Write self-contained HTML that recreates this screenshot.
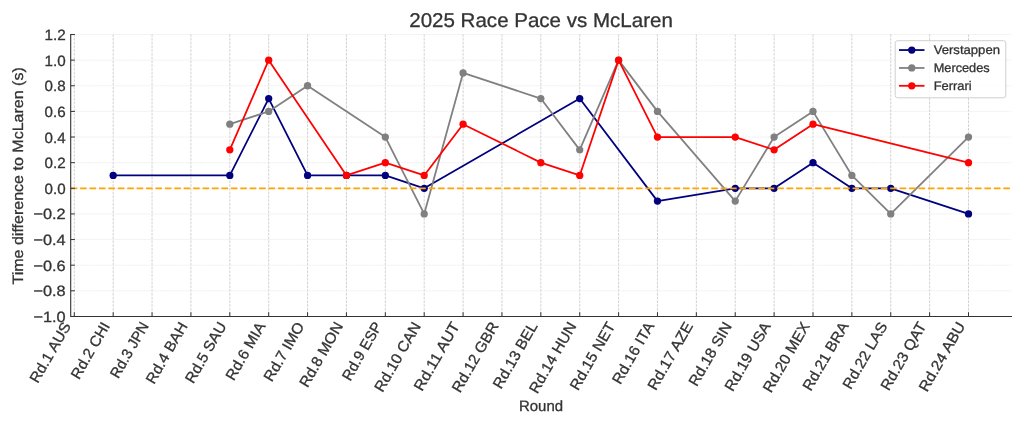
<!DOCTYPE html>
<html><head><meta charset="utf-8"><title>2025 Race Pace vs McLaren</title>
<style>
html,body{margin:0;padding:0;background:#fff;}
body{width:1024px;height:427px;overflow:hidden;}
svg{display:block;}
svg text{font-family:"Liberation Sans",sans-serif;fill:#333333;text-rendering:geometricPrecision;stroke:#333333;stroke-width:0.3px;}
.tk{font-size:14.95px;}
.ttl{font-size:19.9px;}
.lg{font-size:12.45px;}
.grid line{stroke:#c6c6c6;stroke-width:0.8;stroke-dasharray:2.63 1.12;}
.hgrid line{stroke:#eaeaea;stroke-width:0.75;stroke-dasharray:2.0 0.8;}
.ax line,.ax path{stroke:#333;fill:none;}
.s{fill:none;stroke-width:1.78;stroke-linejoin:round;stroke-linecap:square;}
</style></head>
<body>
<svg width="1024" height="427" viewBox="0 0 1024 427">
<rect width="1024" height="427" fill="#fff"/>
<g opacity="0.999">
<g class="grid">
<line x1="74.30" y1="34.20" x2="74.30" y2="316.45"/>
<line x1="113.18" y1="34.20" x2="113.18" y2="316.45"/>
<line x1="152.06" y1="34.20" x2="152.06" y2="316.45"/>
<line x1="190.93" y1="34.20" x2="190.93" y2="316.45"/>
<line x1="229.81" y1="34.20" x2="229.81" y2="316.45"/>
<line x1="268.69" y1="34.20" x2="268.69" y2="316.45"/>
<line x1="307.57" y1="34.20" x2="307.57" y2="316.45"/>
<line x1="346.45" y1="34.20" x2="346.45" y2="316.45"/>
<line x1="385.33" y1="34.20" x2="385.33" y2="316.45"/>
<line x1="424.20" y1="34.20" x2="424.20" y2="316.45"/>
<line x1="463.08" y1="34.20" x2="463.08" y2="316.45"/>
<line x1="501.96" y1="34.20" x2="501.96" y2="316.45"/>
<line x1="540.84" y1="34.20" x2="540.84" y2="316.45"/>
<line x1="579.72" y1="34.20" x2="579.72" y2="316.45"/>
<line x1="618.60" y1="34.20" x2="618.60" y2="316.45"/>
<line x1="657.47" y1="34.20" x2="657.47" y2="316.45"/>
<line x1="696.35" y1="34.20" x2="696.35" y2="316.45"/>
<line x1="735.23" y1="34.20" x2="735.23" y2="316.45"/>
<line x1="774.11" y1="34.20" x2="774.11" y2="316.45"/>
<line x1="812.99" y1="34.20" x2="812.99" y2="316.45"/>
<line x1="851.87" y1="34.20" x2="851.87" y2="316.45"/>
<line x1="890.74" y1="34.20" x2="890.74" y2="316.45"/>
<line x1="929.62" y1="34.20" x2="929.62" y2="316.45"/>
<line x1="968.50" y1="34.20" x2="968.50" y2="316.45"/>
</g><g class="hgrid">
<line x1="70.70" y1="316.45" x2="1011.40" y2="316.45"/>
<line x1="70.70" y1="290.82" x2="1011.40" y2="290.82"/>
<line x1="70.70" y1="265.19" x2="1011.40" y2="265.19"/>
<line x1="70.70" y1="239.55" x2="1011.40" y2="239.55"/>
<line x1="70.70" y1="213.92" x2="1011.40" y2="213.92"/>
<line x1="70.70" y1="188.29" x2="1011.40" y2="188.29"/>
<line x1="70.70" y1="162.66" x2="1011.40" y2="162.66"/>
<line x1="70.70" y1="137.03" x2="1011.40" y2="137.03"/>
<line x1="70.70" y1="111.40" x2="1011.40" y2="111.40"/>
<line x1="70.70" y1="85.76" x2="1011.40" y2="85.76"/>
<line x1="70.70" y1="60.13" x2="1011.40" y2="60.13"/>
<line x1="70.70" y1="34.50" x2="1011.40" y2="34.50"/>
</g>
<polyline class="s" stroke="#000080" points="113.18,175.47 229.81,175.47 268.69,98.58 307.57,175.47 346.45,175.47 385.33,175.47 424.20,188.29 579.72,98.58 657.47,201.11 735.23,188.29 774.11,188.29 812.99,162.66 851.87,188.29 890.74,188.29 968.50,213.92"/>
<g fill="#000080"><circle cx="113.18" cy="175.47" r="3.65"/><circle cx="229.81" cy="175.47" r="3.65"/><circle cx="268.69" cy="98.58" r="3.65"/><circle cx="307.57" cy="175.47" r="3.65"/><circle cx="346.45" cy="175.47" r="3.65"/><circle cx="385.33" cy="175.47" r="3.65"/><circle cx="424.20" cy="188.29" r="3.65"/><circle cx="579.72" cy="98.58" r="3.65"/><circle cx="657.47" cy="201.11" r="3.65"/><circle cx="735.23" cy="188.29" r="3.65"/><circle cx="774.11" cy="188.29" r="3.65"/><circle cx="812.99" cy="162.66" r="3.65"/><circle cx="851.87" cy="188.29" r="3.65"/><circle cx="890.74" cy="188.29" r="3.65"/><circle cx="968.50" cy="213.92" r="3.65"/></g>
<polyline class="s" stroke="#808080" points="229.81,124.21 268.69,111.40 307.57,85.76 385.33,137.03 424.20,213.92 463.08,72.95 540.84,98.58 579.72,149.84 618.60,60.13 657.47,111.40 735.23,201.11 774.11,137.03 812.99,111.40 851.87,175.47 890.74,213.92 968.50,137.03"/>
<g fill="#808080"><circle cx="229.81" cy="124.21" r="3.65"/><circle cx="268.69" cy="111.40" r="3.65"/><circle cx="307.57" cy="85.76" r="3.65"/><circle cx="385.33" cy="137.03" r="3.65"/><circle cx="424.20" cy="213.92" r="3.65"/><circle cx="463.08" cy="72.95" r="3.65"/><circle cx="540.84" cy="98.58" r="3.65"/><circle cx="579.72" cy="149.84" r="3.65"/><circle cx="618.60" cy="60.13" r="3.65"/><circle cx="657.47" cy="111.40" r="3.65"/><circle cx="735.23" cy="201.11" r="3.65"/><circle cx="774.11" cy="137.03" r="3.65"/><circle cx="812.99" cy="111.40" r="3.65"/><circle cx="851.87" cy="175.47" r="3.65"/><circle cx="890.74" cy="213.92" r="3.65"/><circle cx="968.50" cy="137.03" r="3.65"/></g>
<polyline class="s" stroke="#ff0000" points="229.81,149.84 268.69,60.13 346.45,175.47 385.33,162.66 424.20,175.47 463.08,124.21 540.84,162.66 579.72,175.47 618.60,60.13 657.47,137.03 735.23,137.03 774.11,149.84 812.99,124.21 968.50,162.66"/>
<g fill="#ff0000"><circle cx="229.81" cy="149.84" r="3.65"/><circle cx="268.69" cy="60.13" r="3.65"/><circle cx="346.45" cy="175.47" r="3.65"/><circle cx="385.33" cy="162.66" r="3.65"/><circle cx="424.20" cy="175.47" r="3.65"/><circle cx="463.08" cy="124.21" r="3.65"/><circle cx="540.84" cy="162.66" r="3.65"/><circle cx="579.72" cy="175.47" r="3.65"/><circle cx="618.60" cy="60.13" r="3.65"/><circle cx="657.47" cy="137.03" r="3.65"/><circle cx="735.23" cy="137.03" r="3.65"/><circle cx="774.11" cy="149.84" r="3.65"/><circle cx="812.99" cy="124.21" r="3.65"/><circle cx="968.50" cy="162.66" r="3.65"/></g>
<line x1="70.70" y1="188.29" x2="1011.40" y2="188.29" stroke="#ffa500" stroke-width="1.78" stroke-dasharray="6.58 2.84"/>
<g class="ax">
<path d="M70.70 34.50 V316.45 H1011.40" stroke-width="1.1" stroke-linecap="square"/>
<line x1="74.30" y1="316.45" x2="74.30" y2="312.25" stroke-width="1.0"/>
<line x1="113.18" y1="316.45" x2="113.18" y2="312.25" stroke-width="1.0"/>
<line x1="152.06" y1="316.45" x2="152.06" y2="312.25" stroke-width="1.0"/>
<line x1="190.93" y1="316.45" x2="190.93" y2="312.25" stroke-width="1.0"/>
<line x1="229.81" y1="316.45" x2="229.81" y2="312.25" stroke-width="1.0"/>
<line x1="268.69" y1="316.45" x2="268.69" y2="312.25" stroke-width="1.0"/>
<line x1="307.57" y1="316.45" x2="307.57" y2="312.25" stroke-width="1.0"/>
<line x1="346.45" y1="316.45" x2="346.45" y2="312.25" stroke-width="1.0"/>
<line x1="385.33" y1="316.45" x2="385.33" y2="312.25" stroke-width="1.0"/>
<line x1="424.20" y1="316.45" x2="424.20" y2="312.25" stroke-width="1.0"/>
<line x1="463.08" y1="316.45" x2="463.08" y2="312.25" stroke-width="1.0"/>
<line x1="501.96" y1="316.45" x2="501.96" y2="312.25" stroke-width="1.0"/>
<line x1="540.84" y1="316.45" x2="540.84" y2="312.25" stroke-width="1.0"/>
<line x1="579.72" y1="316.45" x2="579.72" y2="312.25" stroke-width="1.0"/>
<line x1="618.60" y1="316.45" x2="618.60" y2="312.25" stroke-width="1.0"/>
<line x1="657.47" y1="316.45" x2="657.47" y2="312.25" stroke-width="1.0"/>
<line x1="696.35" y1="316.45" x2="696.35" y2="312.25" stroke-width="1.0"/>
<line x1="735.23" y1="316.45" x2="735.23" y2="312.25" stroke-width="1.0"/>
<line x1="774.11" y1="316.45" x2="774.11" y2="312.25" stroke-width="1.0"/>
<line x1="812.99" y1="316.45" x2="812.99" y2="312.25" stroke-width="1.0"/>
<line x1="851.87" y1="316.45" x2="851.87" y2="312.25" stroke-width="1.0"/>
<line x1="890.74" y1="316.45" x2="890.74" y2="312.25" stroke-width="1.0"/>
<line x1="929.62" y1="316.45" x2="929.62" y2="312.25" stroke-width="1.0"/>
<line x1="968.50" y1="316.45" x2="968.50" y2="312.25" stroke-width="1.0"/>
<line x1="70.70" y1="316.45" x2="74.90" y2="316.45" stroke-width="1.0"/>
<line x1="70.70" y1="290.82" x2="74.90" y2="290.82" stroke-width="1.0"/>
<line x1="70.70" y1="265.19" x2="74.90" y2="265.19" stroke-width="1.0"/>
<line x1="70.70" y1="239.55" x2="74.90" y2="239.55" stroke-width="1.0"/>
<line x1="70.70" y1="213.92" x2="74.90" y2="213.92" stroke-width="1.0"/>
<line x1="70.70" y1="188.29" x2="74.90" y2="188.29" stroke-width="1.0"/>
<line x1="70.70" y1="162.66" x2="74.90" y2="162.66" stroke-width="1.0"/>
<line x1="70.70" y1="137.03" x2="74.90" y2="137.03" stroke-width="1.0"/>
<line x1="70.70" y1="111.40" x2="74.90" y2="111.40" stroke-width="1.0"/>
<line x1="70.70" y1="85.76" x2="74.90" y2="85.76" stroke-width="1.0"/>
<line x1="70.70" y1="60.13" x2="74.90" y2="60.13" stroke-width="1.0"/>
<line x1="70.70" y1="34.50" x2="74.90" y2="34.50" stroke-width="1.0"/>
</g>
<g class="tk" text-anchor="end">
<text x="65.70" y="322.00" textLength="32.29" lengthAdjust="spacingAndGlyphs">−1.0</text>
<text x="65.70" y="296.37" textLength="32.19" lengthAdjust="spacingAndGlyphs">−0.8</text>
<text x="65.70" y="270.74" textLength="32.19" lengthAdjust="spacingAndGlyphs">−0.6</text>
<text x="65.70" y="245.10" textLength="32.19" lengthAdjust="spacingAndGlyphs">−0.4</text>
<text x="65.70" y="219.47" textLength="32.29" lengthAdjust="spacingAndGlyphs">−0.2</text>
<text x="65.70" y="193.84" textLength="21.06" lengthAdjust="spacingAndGlyphs">0.0</text>
<text x="65.70" y="168.21" textLength="21.16" lengthAdjust="spacingAndGlyphs">0.2</text>
<text x="65.70" y="142.58" textLength="21.06" lengthAdjust="spacingAndGlyphs">0.4</text>
<text x="65.70" y="116.95" textLength="21.06" lengthAdjust="spacingAndGlyphs">0.6</text>
<text x="65.70" y="91.31" textLength="21.06" lengthAdjust="spacingAndGlyphs">0.8</text>
<text x="65.70" y="65.68" textLength="21.16" lengthAdjust="spacingAndGlyphs">1.0</text>
<text x="65.70" y="40.05" textLength="21.26" lengthAdjust="spacingAndGlyphs">1.2</text>
</g>
<g class="tk" text-anchor="end">
<text transform="translate(71.40 325.80) rotate(-60)" textLength="67.35" lengthAdjust="spacingAndGlyphs">Rd.1 AUS</text>
<text transform="translate(110.28 325.80) rotate(-60)" textLength="62.78" lengthAdjust="spacingAndGlyphs">Rd.2 CHI</text>
<text transform="translate(149.16 325.80) rotate(-60)" textLength="61.58" lengthAdjust="spacingAndGlyphs">Rd.3 JPN</text>
<text transform="translate(188.03 325.80) rotate(-60)" textLength="68.22" lengthAdjust="spacingAndGlyphs">Rd.4 BAH</text>
<text transform="translate(226.91 325.80) rotate(-60)" textLength="67.46" lengthAdjust="spacingAndGlyphs">Rd.5 SAU</text>
<text transform="translate(265.79 325.80) rotate(-60)" textLength="64.19" lengthAdjust="spacingAndGlyphs">Rd.6 MIA</text>
<text transform="translate(304.67 325.80) rotate(-60)" textLength="65.61" lengthAdjust="spacingAndGlyphs">Rd.7 IMO</text>
<text transform="translate(343.55 325.80) rotate(-60)" textLength="72.24" lengthAdjust="spacingAndGlyphs">Rd.8 MON</text>
<text transform="translate(382.43 325.80) rotate(-60)" textLength="64.52" lengthAdjust="spacingAndGlyphs">Rd.9 ESP</text>
<text transform="translate(421.30 325.80) rotate(-60)" textLength="77.57" lengthAdjust="spacingAndGlyphs">Rd.10 CAN</text>
<text transform="translate(460.18 325.80) rotate(-60)" textLength="76.38" lengthAdjust="spacingAndGlyphs">Rd.11 AUT</text>
<text transform="translate(499.06 325.80) rotate(-60)" textLength="78.12" lengthAdjust="spacingAndGlyphs">Rd.12 GBR</text>
<text transform="translate(537.94 325.80) rotate(-60)" textLength="73.88" lengthAdjust="spacingAndGlyphs">Rd.13 BEL</text>
<text transform="translate(576.82 325.80) rotate(-60)" textLength="79.21" lengthAdjust="spacingAndGlyphs">Rd.14 HUN</text>
<text transform="translate(615.70 325.80) rotate(-60)" textLength="75.62" lengthAdjust="spacingAndGlyphs">Rd.15 NET</text>
<text transform="translate(654.57 325.80) rotate(-60)" textLength="68.76" lengthAdjust="spacingAndGlyphs">Rd.16 ITA</text>
<text transform="translate(693.45 325.80) rotate(-60)" textLength="75.62" lengthAdjust="spacingAndGlyphs">Rd.17 AZE</text>
<text transform="translate(732.33 325.80) rotate(-60)" textLength="71.05" lengthAdjust="spacingAndGlyphs">Rd.18 SIN</text>
<text transform="translate(771.21 325.80) rotate(-60)" textLength="76.70" lengthAdjust="spacingAndGlyphs">Rd.19 USA</text>
<text transform="translate(810.09 325.80) rotate(-60)" textLength="78.23" lengthAdjust="spacingAndGlyphs">Rd.20 MEX</text>
<text transform="translate(848.97 325.80) rotate(-60)" textLength="76.27" lengthAdjust="spacingAndGlyphs">Rd.21 BRA</text>
<text transform="translate(887.84 325.80) rotate(-60)" textLength="74.31" lengthAdjust="spacingAndGlyphs">Rd.22 LAS</text>
<text transform="translate(926.72 325.80) rotate(-60)" textLength="75.94" lengthAdjust="spacingAndGlyphs">Rd.23 QAT</text>
<text transform="translate(965.60 325.80) rotate(-60)" textLength="77.25" lengthAdjust="spacingAndGlyphs">Rd.24 ABU</text>
</g>
<text class="tk" text-anchor="middle" x="541.05" y="410.50" textLength="44.13" lengthAdjust="spacingAndGlyphs">Round</text>
<text class="tk" text-anchor="middle" transform="translate(22.80 175.88) rotate(-90)" textLength="217.30" lengthAdjust="spacingAndGlyphs">Time difference to McLaren (s)</text>
<text class="ttl" text-anchor="middle" x="541.05" y="26.90" textLength="263.60" lengthAdjust="spacingAndGlyphs">2025 Race Pace vs McLaren</text>
<rect x="895.20" y="40.70" width="110.60" height="57.10" rx="2.4" ry="2.4" fill="#fff" fill-opacity="0.8" stroke="#cccccc" stroke-width="0.95"/>
<line x1="899.9" y1="50.05" x2="923.6" y2="50.05" stroke="#000080" stroke-width="1.78" stroke-linecap="square"/>
<circle cx="911.75" cy="50.05" r="3.65" fill="#000080"/>
<text class="lg" x="933.70" y="54.40" textLength="66.30" lengthAdjust="spacingAndGlyphs">Verstappen</text>
<line x1="899.9" y1="67.95" x2="923.6" y2="67.95" stroke="#808080" stroke-width="1.78" stroke-linecap="square"/>
<circle cx="911.75" cy="67.95" r="3.65" fill="#808080"/>
<text class="lg" x="933.70" y="72.30" textLength="56.00" lengthAdjust="spacingAndGlyphs">Mercedes</text>
<line x1="899.9" y1="85.80" x2="923.6" y2="85.80" stroke="#ff0000" stroke-width="1.78" stroke-linecap="square"/>
<circle cx="911.75" cy="85.80" r="3.65" fill="#ff0000"/>
<text class="lg" x="933.70" y="90.15" textLength="38.03" lengthAdjust="spacingAndGlyphs">Ferrari</text>
</g>
</svg>
</body></html>
